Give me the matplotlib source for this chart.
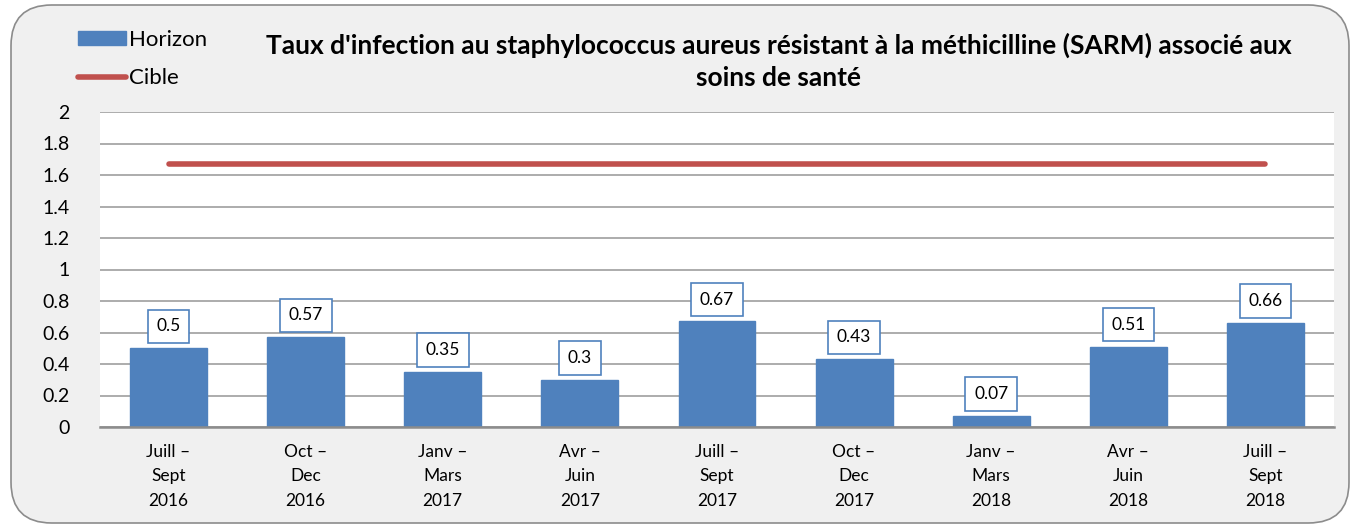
import matplotlib
matplotlib.use("Agg")
import matplotlib.pyplot as plt
from matplotlib.patches import FancyBboxPatch
from matplotlib.lines import Line2D
from matplotlib.patches import Patch

categories = ["Juill –\nSept\n2016", "Oct –\nDec\n2016", "Janv –\nMars\n2017", "Avr –\nJuin\n2017",
              "Juill –\nSept\n2017", "Oct –\nDec\n2017", "Janv –\nMars\n2018", "Avr –\nJuin\n2018",
              "Juill –\nSept\n2018"]
horizon = [0.5, 0.57, 0.35, 0.3, 0.67, 0.43, 0.07, 0.51, 0.66]
cible = [1.67] * 9
yticks = [0, 0.2, 0.4, 0.6, 0.8, 1, 1.2, 1.4, 1.6, 1.8, 2]
ytick_labels = ["0", "0.2", "0.4", "0.6", "0.8", "1", "1.2", "1.4", "1.6", "1.8", "2"]

plt.rcParams['font.family'] = ['Lato', 'DejaVu Sans']

W, H = 1357, 529
fig = plt.figure(figsize=(W / 100, H / 100), dpi=100)
fig.patch.set_facecolor("white")

border = FancyBboxPatch((11 / W, 6 / H), (1349 - 11) / W, (524 - 6) / H,
                        boxstyle="round,pad=0,rounding_size=0.03",
                        transform=fig.transFigure, facecolor="#f0f0f0",
                        edgecolor="#8c8c8c", linewidth=1.2, mutation_aspect=W / H, zorder=-10)
fig.patches.append(border)

ax = fig.add_axes([100 / W, (H - 427) / H, (1334 - 100) / W, (427 - 112) / H])
ax.set_zorder(1)
ax.set_facecolor("white")
x = list(range(len(categories)))
ax.bar(x, horizon, width=0.56, color="#4f81bd", edgecolor="#4f81bd", zorder=3, label="Horizon")
ax.plot(x, cible, color="#c0504d", linewidth=4, solid_capstyle="round", zorder=4, label="Cible")

for xi, v in zip(x, horizon):
    ax.annotate(f"{v:g}", (xi, v), xytext=(0, 10), textcoords="offset points",
                ha="center", va="bottom", fontsize=12.5, color="black", zorder=5,
                bbox=dict(boxstyle="square,pad=0.5", facecolor="white", edgecolor="#4f81bd", linewidth=1.2))

ax.set_xlim(-0.5, len(categories) - 0.5)
ax.set_ylim(0, 2)
ax.set_yticks(yticks)
ax.set_yticklabels(ytick_labels, fontsize=14)
ax.set_xticks(x)
ax.set_xticklabels(categories, fontsize=12.5, linespacing=1.65)
ax.tick_params(axis="both", length=0)
ax.tick_params(axis="x", pad=12)
ax.tick_params(axis="y", pad=22)
ax.grid(axis="y", color="#a6a6a6", linewidth=1.3, zorder=0)
for s in ["top", "right", "left"]:
    ax.spines[s].set_visible(False)
ax.spines["bottom"].set_color("#8c8c8c")
ax.spines["bottom"].set_linewidth(1.8)
ax.spines["bottom"].set_zorder(6)

fig.text(779 / W, 1 - 45 / H, "Taux d'infection au staphylococcus aureus résistant à la méthicilline (SARM) associé aux",
         ha="center", va="center", fontsize=19, fontweight="bold")
fig.text(779 / W, 1 - 78 / H, "soins de santé", ha="center", va="center", fontsize=19, fontweight="bold")

handles = [Patch(facecolor="#4f81bd", edgecolor="#4f81bd"),
           Line2D([0], [0], color="#c0504d", linewidth=4, solid_capstyle="round")]
fig.legend(handles, ["Horizon", "Cible"], loc="upper left", bbox_to_anchor=(62 / W, 1 - 14 / H),
           frameon=False, fontsize=16, handlelength=2.2, handletextpad=0.1, labelspacing=0.85,
           handleheight=0.6, borderpad=0.2)

fig.savefig("out.png", dpi=100, facecolor=fig.get_facecolor())
